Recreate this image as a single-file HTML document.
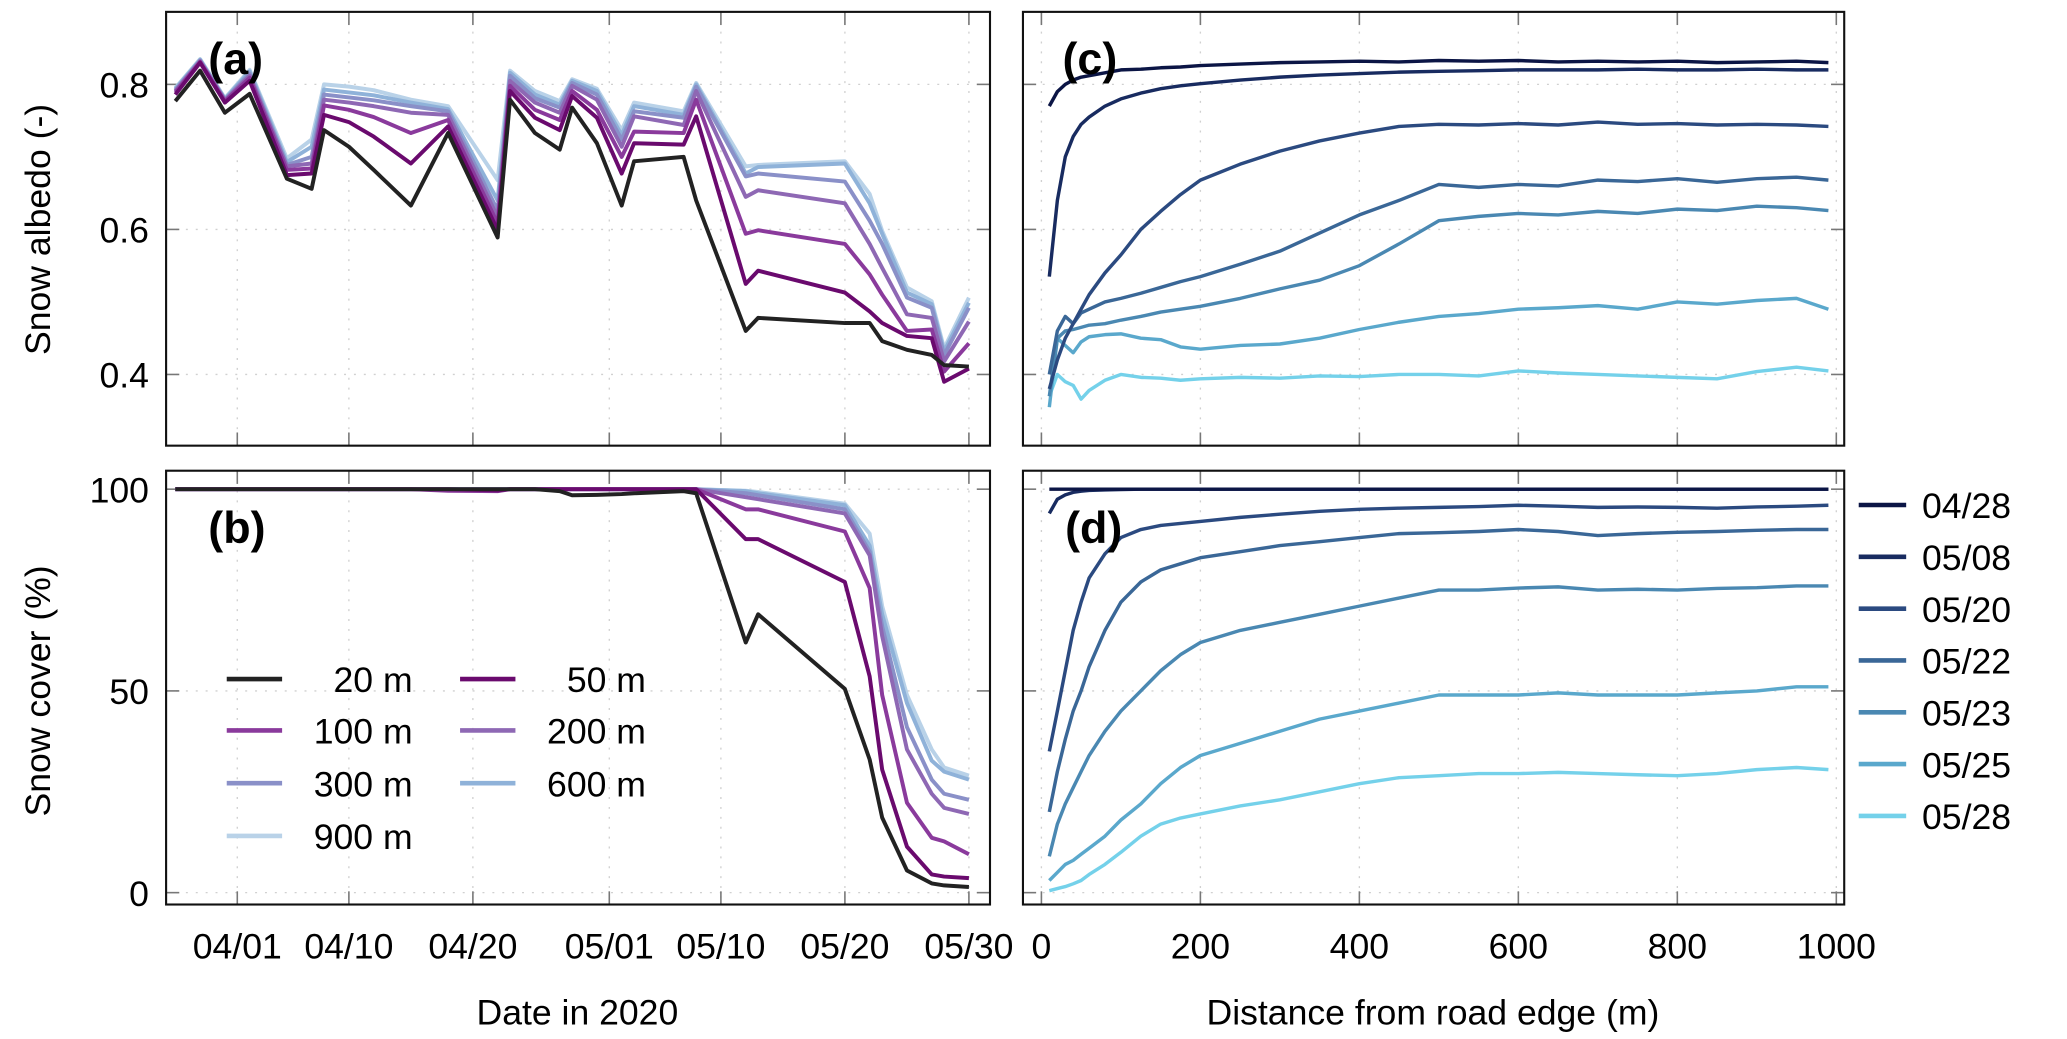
<!DOCTYPE html>
<html><head><meta charset="utf-8"><style>
html,body{margin:0;padding:0;background:#fff;}
svg{display:block;font-family:"Liberation Sans",Arial,sans-serif;}
</style></head><body>
<svg id="fig" width="2067" height="1039" viewBox="0 0 1568 788" preserveAspectRatio="none" xmlns="http://www.w3.org/2000/svg"></svg>
<script>
// ---------- data: panels (a),(b) ----------
const dateDays = [-5,-3,-1,1,4,6,7,9,11,14,17,21,22,24,26,27,29,31,32,36,37,41,42,49,51,52,54,56,57,59];
const bufferNames = ["20 m","50 m","100 m","200 m","300 m","600 m","900 m"];
const albedo20  = [0.777,0.819,0.761,0.787,0.670,0.656,0.737,0.714,0.682,0.633,0.733,0.589,0.779,0.733,0.710,0.768,0.719,0.633,0.694,0.700,0.640,0.460,0.478,0.471,0.471,0.446,0.434,0.427,0.413,0.411];
const albedo50  = [0.786,0.830,0.775,0.805,0.675,0.677,0.758,0.748,0.728,0.691,0.742,0.599,0.791,0.754,0.737,0.784,0.754,0.677,0.719,0.717,0.756,0.525,0.543,0.513,0.487,0.471,0.453,0.450,0.390,0.408];
const albedo100 = [0.789,0.831,0.777,0.809,0.682,0.684,0.771,0.765,0.755,0.733,0.751,0.608,0.798,0.765,0.751,0.791,0.765,0.700,0.735,0.733,0.779,0.594,0.599,0.580,0.538,0.510,0.460,0.462,0.404,0.443];
const albedo200 = [0.791,0.832,0.778,0.812,0.687,0.691,0.779,0.775,0.770,0.761,0.758,0.617,0.805,0.775,0.761,0.798,0.779,0.714,0.756,0.744,0.791,0.645,0.654,0.636,0.580,0.547,0.483,0.478,0.418,0.473];
const albedo300 = [0.792,0.833,0.779,0.815,0.689,0.700,0.786,0.782,0.778,0.770,0.763,0.626,0.812,0.781,0.768,0.802,0.786,0.724,0.763,0.754,0.797,0.673,0.677,0.666,0.612,0.580,0.506,0.492,0.427,0.492];
const albedo600 = [0.794,0.834,0.780,0.818,0.693,0.714,0.793,0.789,0.785,0.775,0.766,0.640,0.816,0.786,0.772,0.805,0.791,0.730,0.770,0.758,0.800,0.677,0.686,0.691,0.636,0.594,0.513,0.497,0.432,0.499];
const albedo900 = [0.795,0.835,0.781,0.820,0.698,0.724,0.800,0.797,0.792,0.779,0.770,0.668,0.819,0.791,0.777,0.807,0.794,0.737,0.775,0.763,0.802,0.687,0.689,0.694,0.649,0.598,0.520,0.501,0.436,0.506];
const cover20  = [100,100,100,100,100,100,100,100,100,100,100,100,100,100,99.5,98.5,98.6,98.8,99.0,99.5,99.0,62,69,50.5,33,18.6,5.5,2.3,1.8,1.4];
const cover50  = [100,100,100,100,100,100,100,100,100,100,100,99.7,100,100,100,100,100,100,100,100,100,87.6,87.6,77,53.6,30.5,11.4,4.5,4,3.6];
const cover100 = [100,100,100,100,100,100,100,100,100,100,99.6,99.5,100,100,100,100,100,100,100,100,100,95,95,89.5,75.5,49,22.3,13.6,12.7,9.5];
const cover200 = [100,100,100,100,100,100,100,100,100,100,100,100,100,100,100,100,100,100,100,100,100,98,97.5,94,83.6,63.6,35.5,24.5,21,19.5];
const cover300 = [100,100,100,100,100,100,100,100,100,100,100,100,100,100,100,100,100,100,100,100,100,99,98.5,95,84.5,66,41,28,24.5,23];
const cover600 = [100,100,100,100,100,100,100,100,100,100,100,100,100,100,100,100,100,100,100,100,100,99.5,99,96,86,69,47,32.7,30,28];
const cover900 = [100,100,100,100,100,100,100,100,100,100,100,100,100,100,100,100,100,100,100,100,100,99.6,99.3,96.4,89,71,49,35.5,31,29];
const dateTickDays = [0,9,19,30,39,49,59];
const dateTickLabels = ["04/01","04/10","04/20","05/01","05/10","05/20","05/30"];
const albedoTicks = [0.4,0.6,0.8];
const coverTicks = [0,50,100];

// ---------- data: panels (c),(d) ----------
const profileDates = ["04/28","05/08","05/20","05/22","05/23","05/25","05/28"];
const dist = [10,20,30,40,50,60,80,100,125,150,175,200,250,300,350,400,450,500,550,600,650,700,750,800,850,900,950,990];
const alb0428 = [0.770,0.790,0.800,0.806,0.810,0.812,0.816,0.820,0.821,0.823,0.824,0.826,0.828,0.830,0.831,0.832,0.831,0.833,0.832,0.833,0.831,0.832,0.831,0.832,0.830,0.831,0.832,0.830];
const alb0508 = [0.535,0.640,0.700,0.728,0.745,0.755,0.770,0.780,0.788,0.794,0.798,0.801,0.806,0.810,0.813,0.815,0.817,0.818,0.819,0.820,0.820,0.820,0.821,0.820,0.820,0.821,0.820,0.820];
const alb0520 = [0.380,0.420,0.450,0.470,0.490,0.510,0.540,0.565,0.600,0.625,0.648,0.668,0.690,0.708,0.722,0.733,0.742,0.745,0.744,0.746,0.744,0.748,0.745,0.746,0.744,0.745,0.744,0.742];
const alb0522 = [0.400,0.460,0.480,0.470,0.485,0.490,0.500,0.505,0.512,0.520,0.528,0.535,0.552,0.570,0.595,0.620,0.640,0.662,0.658,0.662,0.660,0.668,0.666,0.670,0.665,0.670,0.672,0.668];
const alb0523 = [0.370,0.450,0.460,0.462,0.465,0.468,0.470,0.475,0.480,0.486,0.490,0.494,0.505,0.518,0.530,0.550,0.580,0.612,0.618,0.622,0.620,0.625,0.622,0.628,0.626,0.632,0.630,0.626];
const alb0525 = [0.355,0.450,0.440,0.430,0.445,0.452,0.455,0.456,0.450,0.448,0.438,0.435,0.440,0.442,0.450,0.462,0.472,0.480,0.484,0.490,0.492,0.495,0.490,0.500,0.497,0.502,0.505,0.490];
const alb0528 = [0.370,0.400,0.390,0.385,0.366,0.378,0.392,0.400,0.396,0.395,0.392,0.394,0.396,0.395,0.398,0.397,0.400,0.400,0.398,0.405,0.402,0.400,0.398,0.396,0.394,0.404,0.410,0.405];
const cov0428 = [100,100,100,100,100,100,100,100,100,100,100,100,100,100,100,100,100,100,100,100,100,100,100,100,100,100,100,100];
const cov0508 = [94,97.5,98.6,99.2,99.5,99.7,99.8,99.9,100,100,100,100,100,100,100,100,100,100,100,100,100,100,100,100,100,100,100,100];
const cov0520 = [35,45,55,65,72,78,84,88,90,91,91.5,92,93,93.8,94.5,95,95.3,95.5,95.7,96,95.8,95.5,95.6,95.5,95.3,95.6,95.8,96];
const cov0522 = [20,30,38,45,50,56,65,72,77,80,81.5,83,84.5,86,87,88,89,89.2,89.5,90,89.5,88.5,89,89.3,89.5,89.8,90,90];
const cov0523 = [9,17,22,26,30,34,40,45,50,55,59,62,65,67,69,71,73,75,75,75.5,75.8,75,75.2,75,75.4,75.6,76,76];
const cov0525 = [3,5,7,8,9.5,11,14,18,22,27,31,34,37,40,43,45,47,49,49,49,49.5,49,49,49,49.5,50,51,51];
const cov0528 = [0.5,1,1.5,2.2,3,4.5,7,10,14,17,18.5,19.5,21.5,23,25,27,28.5,29,29.5,29.5,29.8,29.5,29.2,29,29.5,30.5,31,30.5];
const distTicks = [0,200,400,600,800,1000];

// ---------- helpers ----------
const NS="http://www.w3.org/2000/svg";
const svg=document.getElementById('fig');
function mk(tag,attrs,parent){const e=document.createElementNS(NS,tag);for(const k in attrs)e.setAttribute(k,attrs[k]);(parent||svg).appendChild(e);return e;}
function lin(d0,d1,r0,r1){return v=>r0+(v-d0)*(r1-r0)/(d1-d0);}

const PA={l:126,r:751,t:9,b:338}, PB={l:126,r:751,t:357,b:686};
const PC={l:776,r:1399,t:9,b:338}, PD={l:776,r:1399,t:357,b:686};
const xDate=lin(0,59,180,735);
const yAlb=lin(0.8,0.4,64,284);
const yCov=lin(100,0,371,677);
const xDist=lin(0,1000,790,1393);

function frame(P,name,xt,xs,yt,ys){
  const g=mk('g',{});
  
  
  xt.forEach(v=>{const x=xs(v);mk('line',{x1:x,x2:x,y1:P.t,y2:P.b,stroke:'#d0d0d0','stroke-width':1,'stroke-dasharray':'1.5 6'},g);});
  yt.forEach(v=>{const y=ys(v);mk('line',{x1:P.l,x2:P.r,y1:y,y2:y,stroke:'#d0d0d0','stroke-width':1,'stroke-dasharray':'1.5 6'},g);});
  xt.forEach(v=>{const x=xs(v);
    mk('line',{x1:x,x2:x,y1:P.b,y2:P.b-10,stroke:'#777','stroke-width':1.2},g);
    mk('line',{x1:x,x2:x,y1:P.t,y2:P.t+10,stroke:'#777','stroke-width':1.2},g);});
  yt.forEach(v=>{const y=ys(v);
    mk('line',{x1:P.l,x2:P.l+10,y1:y,y2:y,stroke:'#777','stroke-width':1.2},g);
    mk('line',{x1:P.r,x2:P.r-10,y1:y,y2:y,stroke:'#777','stroke-width':1.2},g);});
  return g;
}
function box(P,name){const r=mk('rect',{x:P.l,y:P.t,width:P.r-P.l,height:P.b-P.t,fill:'none',stroke:'#111','stroke-width':1.6});
  
  }
function series(xs,ys,X,Y,color,w,name){
  const p=mk('polyline',{points:xs.map((v,i)=>X(v).toFixed(1)+','+Y(ys[i]).toFixed(1)).join(' '),fill:'none',stroke:color,'stroke-width':w,'stroke-linejoin':'round'});
  
  
  return p;}
function text(x,y,s,opts,name){const t=mk('text',Object.assign({x:x,y:y,'font-size':27,fill:'#000'},opts||{}));t.textContent=s;
  
  
  return t;}

// ---------- panels a,b ----------
const bufColors=["#222222","#6a0a6e","#8a3a9c","#8e68b4","#8a90c8","#8fb2d9","#b9d2e8"];
const albSeries=[albedo20,albedo50,albedo100,albedo200,albedo300,albedo600,albedo900];
const covSeries=[cover20,cover50,cover100,cover200,cover300,cover600,cover900];
frame(PA,'panel-a',dateTickDays,xDate,albedoTicks,yAlb);
frame(PB,'panel-b',dateTickDays,xDate,coverTicks,yCov);
for(let i=albSeries.length-1;i>=0;i--){
  series(dateDays,albSeries[i],xDate,yAlb,bufColors[i],3,'albedo-line-'+bufferNames[i].replace(' ',''));
  series(dateDays,covSeries[i],xDate,yCov,bufColors[i],3,'cover-line-'+bufferNames[i].replace(' ',''));
}
box(PA,'panel-a');box(PB,'panel-b');
albedoTicks.forEach(v=>text(113,yAlb(v)+10,v.toFixed(1),{'text-anchor':'end'},'albedo-tick-label'));
coverTicks.forEach(v=>text(113,yCov(v)+10,String(v),{'text-anchor':'end'},'cover-tick-label'));
dateTickDays.forEach((d,i)=>text(xDate(d),727,dateTickLabels[i],{'text-anchor':'middle'},'date-tick-label'));
text(438,777,'Date in 2020',{'text-anchor':'middle','font-size':27},'x-axis-title-date');
text(0,0,'Snow albedo (-)',{'text-anchor':'middle','font-size':27,transform:'translate(38,174) rotate(-90)'},'y-axis-title-albedo');
text(0,0,'Snow cover (%)',{'text-anchor':'middle','font-size':27,transform:'translate(38,524) rotate(-90)'},'y-axis-title-cover');
text(158,56,'(a)',{'font-size':34,'font-weight':'bold'},'panel-label-a');
text(158,412,'(b)',{'font-size':34,'font-weight':'bold'},'panel-label-b');

const legPos=[[172,515],[349,515],[172,554],[349,554],[172,594],[349,594],[172,634]];
bufferNames.forEach((n,i)=>{
  const g=mk('g',{});
  
  
  const [x,y]=legPos[i];
  mk('line',{x1:x,x2:x+42,y1:y,y2:y,stroke:bufColors[i],'stroke-width':3.5},g);
  const t=mk('text',{x:x+141,y:y+10,'font-size':27,'text-anchor':'end'},g);t.textContent=n;
});

// ---------- panels c,d ----------
const dateColors=["#0b1545","#182b60","#2b4a80","#3a6797","#4a88b2","#5aa8cc","#74d1ea"];
const albProf=[alb0428,alb0508,alb0520,alb0522,alb0523,alb0525,alb0528];
const covProf=[cov0428,cov0508,cov0520,cov0522,cov0523,cov0525,cov0528];
frame(PC,'panel-c',distTicks,xDist,albedoTicks,yAlb);
frame(PD,'panel-d',distTicks,xDist,coverTicks,yCov);
for(let i=albProf.length-1;i>=0;i--){
  series(dist,albProf[i],xDist,yAlb,dateColors[i],2.6,'albedo-profile-'+profileDates[i].replace('/','-'));
  series(dist,covProf[i],xDist,yCov,dateColors[i],2.6,'cover-profile-'+profileDates[i].replace('/','-'));
}
box(PC,'panel-c');box(PD,'panel-d');
distTicks.forEach(v=>text(xDist(v),727,String(v),{'text-anchor':'middle'},'distance-tick-label'));
text(1087,777,'Distance from road edge (m)',{'text-anchor':'middle','font-size':27},'x-axis-title-distance');
text(806,56,'(c)',{'font-size':34,'font-weight':'bold'},'panel-label-c');
text(808,412,'(d)',{'font-size':34,'font-weight':'bold'},'panel-label-d');
profileDates.forEach((d,i)=>{
  const g=mk('g',{});
  
  
  const y=383+i*39.3;
  mk('line',{x1:1410,x2:1446,y1:y,y2:y,stroke:dateColors[i],'stroke-width':3.5},g);
  const t=mk('text',{x:1458,y:y+10,'font-size':27},g);t.textContent=d;
});
</script>
</body></html>
